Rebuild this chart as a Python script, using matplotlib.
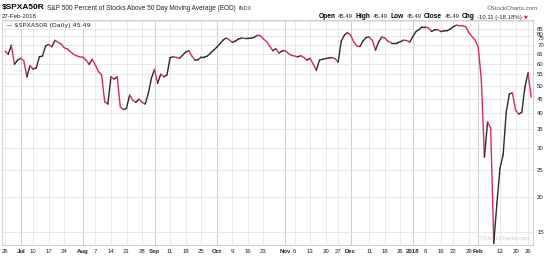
import numpy as np
import pandas as pd
import matplotlib
matplotlib.use('Agg')
import matplotlib.pyplot as plt
import matplotlib.transforms as mtransforms
from matplotlib.collections import LineCollection

plt.rcParams['font.family'] = ['Liberation Sans', 'DejaVu Sans']

# trading days, 26 Jun 2017 .. 27 Feb 2018
holidays = ['2017-07-04', '2017-09-04', '2017-11-23', '2017-12-25',
            '2018-01-01', '2018-01-15', '2018-02-19']
days = pd.bdate_range('2017-06-26', '2018-02-27', freq='C', holidays=holidays)

# % of S&P 500 stocks above their 50 day MA
jun = [66.5, 64.7, 69.8, 59.6, 61.7]
jul = [62.6, 61.4, 53.8, 58.9, 57.3, 57.9, 63.4, 63.8, 69.3, 70.2,
       68.9, 72.6, 71.4, 70.4, 68.3, 67.6, 66.1, 64.7, 63.9, 63.4]
aug = [63.1, 61.7, 59.6, 62.1, 59.2, 56.1, 54.6, 43.8, 43.0, 53.8, 52.8, 53.8,
       42.0, 41.1, 41.5, 46.3, 44.4, 43.6, 44.8, 43.6, 43.0, 46.9, 53.1]
sep = [57.2, 51.0, 55.0, 53.8, 54.6, 62.9, 63.4, 63.1, 62.6, 64.2,
       65.9, 66.7, 63.8, 61.7, 61.9, 63.3, 63.3, 63.8, 65.4, 67.0]
oct_ = [68.6, 70.6, 72.7, 74.0, 72.9, 71.4, 72.2, 73.4, 74.0, 73.8, 73.8,
        73.9, 74.4, 75.6, 75.5, 73.4, 71.9, 69.3, 66.7, 67.8, 65.4, 66.5]
nov = [66.7, 65.1, 64.2, 63.8, 63.4, 64.0, 63.0, 61.7, 62.6, 59.7, 56.8,
       61.7, 62.1, 62.5, 62.8, 63.0, 62.5, 60.7, 72.2, 75.8, 77.4]
dec = [75.8, 71.6, 69.3, 69.0, 72.2, 74.3, 74.6, 72.5, 67.0, 71.6,
       74.6, 74.0, 72.0, 71.2, 71.2, 71.2, 71.8, 72.7, 72.5, 71.6]
jan = [74.9, 78.0, 79.3, 81.2, 81.2, 80.3, 78.1, 79.1, 79.3, 78.0, 78.5,
       78.6, 79.6, 81.2, 82.2, 81.9, 81.8, 81.2, 77.4, 74.9, 72.7]
feb = [68.7, 52.4, 27.8, 37.1, 35.3, 13.7, 19.0, 25.4, 28.3, 40.2,
       46.7, 47.1, 40.9, 39.6, 40.2, 49.4, 55.60, 45.49]

values = np.array(jun + jul + aug + sep + oct_ + nov + dec + jan + feb)
x = np.arange(len(days))

tick_dates = ['2017-06-26', '2017-07-03', '2017-07-10', '2017-07-17', '2017-07-24',
              '2017-08-01', '2017-08-07', '2017-08-14', '2017-08-21', '2017-08-28',
              '2017-09-01', '2017-09-11', '2017-09-18', '2017-09-25',
              '2017-10-02', '2017-10-09', '2017-10-16', '2017-10-23',
              '2017-11-01', '2017-11-06', '2017-11-13', '2017-11-20', '2017-11-27',
              '2017-12-01', '2017-12-11', '2017-12-18', '2017-12-26',
              '2018-01-02', '2018-01-08', '2018-01-16', '2018-01-22', '2018-01-29',
              '2018-02-01', '2018-02-12', '2018-02-20', '2018-02-26']
tick_labels = ['26', 'Jul', '10', '17', '24', 'Aug', '7', '14', '21', '28',
               'Sep', '11', '18', '25', 'Oct', '9', '16', '23',
               'Nov', '6', '13', '20', '27', 'Dec', '11', '18', '26',
               '2018', '8', '16', '22', '29', 'Feb', '12', '20', '26']
month_labels = ['Jul', 'Aug', 'Sep', 'Oct', 'Nov', 'Dec', '2018', 'Feb']
y_ticks = [15, 20, 25, 30, 35, 40, 45, 50, 55, 60, 65, 70, 75, 80, 85]

UP = '#2b2b2b'
DOWN = '#d92b5a'

fig = plt.figure(figsize=(5.5, 2.58), dpi=100)
ax = fig.add_axes([2 / 550, 1 - 245 / 258, 531 / 550, 225 / 258])

# line coloured black on up days, red on down days
pts = np.column_stack([x, values])
segs = np.stack([pts[:-1], pts[1:]], axis=1)
cols = [UP if values[i + 1] >= values[i] else DOWN for i in range(len(values) - 1)]
lc = LineCollection(segs, colors=cols, linewidths=1.0, capstyle='round', joinstyle='round', zorder=3)
ax.add_collection(lc)

ax.set_yscale('log')
ax.set_ylim(13.5, 85.8)
ax.set_xlim(-1, 169.6)

ax.yaxis.tick_right()
ax.set_yticks(y_ticks)
ax.set_yticklabels([str(v) for v in y_ticks])
ax.yaxis.set_minor_locator(matplotlib.ticker.NullLocator())
tick_pos = days.get_indexer(pd.to_datetime(tick_dates))
ax.set_xticks(tick_pos)
ax.set_xticklabels(tick_labels)
for lab in ax.get_xticklabels():
    if lab.get_text() in month_labels:
        lab.set_fontweight('bold')
ax.tick_params(axis='both', length=0, labelsize=4.3, colors='#222222')
ax.tick_params(axis='x', pad=3)
ax.tick_params(axis='y', pad=3)

# top labels squeezed down as on the original
shift = {75: 2, 80: 5, 85: 8}
for v, lab in zip(y_ticks, ax.get_yticklabels()):
    if v in shift:
        lab.set_transform(lab.get_transform() +
                          mtransforms.ScaledTranslation(0, -shift[v] / 100, fig.dpi_scale_trans))

ax.grid(True, color='#e4e4e4', linewidth=0.6)
for lab, gl in zip(tick_labels, ax.get_xgridlines()):
    if lab in month_labels:
        gl.set_color('#c4c4c4')
for s in ax.spines.values():
    s.set_color('#c8c8c8')
    s.set_linewidth(0.6)

ax.text(4 / 531, 1 - 6 / 225, '\u2014 $SPXA50R (Daily) 45.49', transform=ax.transAxes,
        fontsize=4.6, family='DejaVu Sans', color='#222222', va='center', ha='left',
        bbox=dict(facecolor='white', edgecolor='none', pad=0.6), zorder=4)
ax.text(0.995, 0.02, '\u00a9StockCharts.com', transform=ax.transAxes, fontsize=4.3,
        color='#cfcfcf', ha='right', va='bottom', zorder=2)

renderer = fig.canvas.get_renderer()
ident = mtransforms.IdentityTransform()


def text_run(x0, y_top, parts, align='left', gap=2.5):
    items = []
    for s, size, weight, color in parts:
        t = fig.text(0, 0, s, fontsize=size, fontweight=weight, color=color,
                     va='center', ha='left', transform=ident)
        items.append((t, t.get_window_extent(renderer).width))
    total = sum(w for _, w in items) + gap * (len(items) - 1)
    cur = x0 - total if align == 'right' else x0
    for t, w in items:
        t.set_position((cur, 258 - y_top))
        cur += w + gap


text_run(2, 8, [('$SPXA50R', 6.0, 'bold', 'black'),
                ('S&P 500 Percent of Stocks Above 50 Day Moving Average (EOD)', 4.7, 'normal', '#222222'),
                ('INDX', 4.0, 'normal', '#333333')])
text_run(2, 16, [('27-Feb-2018', 4.4, 'normal', '#222222')])
text_run(538, 9, [('\u00a9StockCharts.com', 4.4, 'normal', '#555555')], align='right')
text_run(522, 17, [('Open', 4.8, 'bold', 'black'), ('45.49', 4.3, 'normal', '#222222'),
                   ('High', 4.8, 'bold', 'black'), ('45.49', 4.3, 'normal', '#222222'),
                   ('Low', 4.8, 'bold', 'black'), ('45.49', 4.3, 'normal', '#222222'),
                   ('Close', 4.8, 'bold', 'black'), ('45.49', 4.3, 'normal', '#222222'),
                   ('Chg', 4.8, 'bold', 'black'), ('-10.11 (-18.18%)', 4.3, 'normal', '#222222')],
         align='right')
fig.text(524, 258 - 17, '\u25bc', fontsize=3.6, color='#cc1f4a', va='center', ha='left',
         family='DejaVu Sans', transform=ident)

fig.savefig('out.png', dpi=100)
